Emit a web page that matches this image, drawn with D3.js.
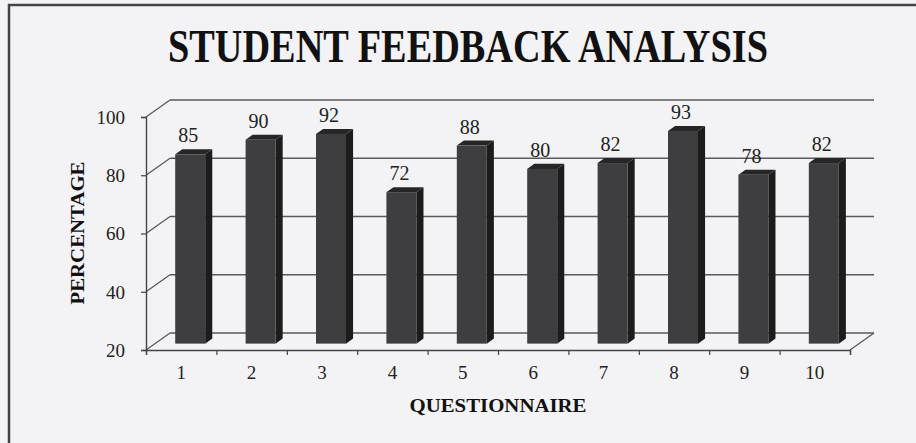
<!DOCTYPE html>
<html>
<head>
<meta charset="utf-8">
<script src="https://cdn.jsdelivr.net/npm/d3@7"></script>
<style>
  html, body { margin: 0; padding: 0; background: #f3f2f4; }
  svg { display: block; }
</style>
</head>
<body>
<svg id="chart" width="916" height="443"></svg>
<script>
const categories = ["1","2","3","4","5","6","7","8","9","10"];
const values = [85, 90, 92, 72, 88, 80, 82, 93, 78, 82];
const yTicks = [20, 40, 60, 80, 100];
const titleText = "STUDENT FEEDBACK ANALYSIS";
const xTitle = "QUESTIONNAIRE";
const yTitle = "PERCENTAGE";

(function () {
const svg = d3.select("#chart");
const W = 916, H = 443;
const serif = "'Liberation Serif', 'Times New Roman', serif";

// background + frame (only top and left edges visible)
svg.append("rect").attr("x", 0).attr("y", 0).attr("width", W).attr("height", H).attr("fill", "#f3f2f4");
svg.append("rect").attr("x", 9).attr("y", 5).attr("width", 930).attr("height", 460)
  .attr("fill", "none").attr("stroke", "#444").attr("stroke-width", 2.5);

// plot geometry
const pLeft = 146, pRight = 850, pBottom = 350, pTop = 117;
const DX = 24, DY = -17;          // full depth offset
const z0 = 0.375, z1 = 0.67;      // bar depth range

const x = d3.scaleBand().domain(categories).range([pLeft, pRight]).paddingInner(0.574).paddingOuter(0.287);
const y = d3.scaleLinear().domain([20, 100]).range([pBottom, pTop]);
const b = d3.scaleLinear().domain([0, categories.length]).range([pLeft, pRight]);

const g = svg.append("g");
const gridColor = "#5a5a5a";

// back wall gridlines + left wall slants
yTicks.forEach(v => {
  g.append("line")
    .attr("x1", pLeft + DX).attr("x2", pRight + DX)
    .attr("y1", y(v) + DY).attr("y2", y(v) + DY)
    .attr("stroke", gridColor).attr("stroke-width", 1.7);
  g.append("line")
    .attr("x1", pLeft).attr("x2", pLeft + DX)
    .attr("y1", y(v)).attr("y2", y(v) + DY)
    .attr("stroke", gridColor).attr("stroke-width", 1.3);
});
// floor right edge
g.append("line")
  .attr("x1", pRight).attr("x2", pRight + DX)
  .attr("y1", pBottom).attr("y2", pBottom + DY)
  .attr("stroke", gridColor).attr("stroke-width", 1.3);

// axes
const yAxis = g.append("g").attr("transform", `translate(${pLeft},0)`)
  .call(d3.axisLeft(y).tickValues(yTicks).tickSize(5).tickPadding(16));
yAxis.select(".domain").attr("stroke", "#444").attr("stroke-width", 1.4);
yAxis.selectAll(".tick line").attr("stroke", "#444").attr("stroke-width", 1.2);
yAxis.selectAll(".tick text").attr("font-family", serif).attr("font-size", 19).attr("fill", "#222")
  .attr("dy", "0.34em");

const xTicksAxis = g.append("g").attr("transform", `translate(0,${pBottom})`)
  .call(d3.axisBottom(b).tickValues(d3.range(0, categories.length + 1)).tickFormat("").tickSize(5));
xTicksAxis.select(".domain").attr("stroke", "#444").attr("stroke-width", 1.4);
xTicksAxis.selectAll(".tick line").attr("stroke", "#444").attr("stroke-width", 1.2);

const xAxis = g.append("g").attr("transform", `translate(0,${pBottom})`)
  .call(d3.axisBottom(x).tickSize(0).tickPadding(19));
xAxis.select(".domain").remove();
xAxis.selectAll(".tick text").attr("font-family", serif).attr("font-size", 19).attr("fill", "#222")
  .attr("dy", "0.55em");

// bars
const bw = x.bandwidth();
const pts = a => a.map(p => p.join(",")).join(" ");
const bars = g.append("g").selectAll("g").data(values).join("g");
bars.each(function(v, i) {
  const c = categories[i];
  const fx = x(c) + z0 * DX, fy = y(v) + z0 * DY, fb = pBottom + z0 * DY;
  const ddx = (z1 - z0) * DX, ddy = (z1 - z0) * DY;
  const sel = d3.select(this);
  sel.append("polygon").attr("points", pts([[fx + bw, fy], [fx + bw + ddx, fy + ddy], [fx + bw + ddx, fb + ddy], [fx + bw, fb]]))
    .attr("fill", "#1c1c1c");
  sel.append("polygon").attr("points", pts([[fx, fy], [fx + ddx, fy + ddy], [fx + bw + ddx, fy + ddy], [fx + bw, fy]]))
    .attr("fill", "#262626");
  sel.append("rect").attr("x", fx).attr("y", fy).attr("width", bw).attr("height", fb - fy)
    .attr("fill", "#3e3e40");
  sel.append("text").attr("x", fx + bw / 2 - 2).attr("y", fy - 12)
    .attr("text-anchor", "middle").attr("font-family", serif).attr("font-size", 20).attr("fill", "#222")
    .text(v);
});

// titles
svg.append("text").attr("x", 468).attr("y", 62).attr("text-anchor", "middle")
  .attr("font-family", serif).attr("font-weight", "bold").attr("font-size", 46).attr("fill", "#111")
  .attr("textLength", 600).attr("lengthAdjust", "spacingAndGlyphs")
  .text(titleText);

svg.append("text").attr("x", 498).attr("y", 412).attr("text-anchor", "middle")
  .attr("font-family", serif).attr("font-weight", "bold").attr("font-size", 18).attr("fill", "#111")
  .attr("textLength", 177).attr("lengthAdjust", "spacingAndGlyphs")
  .text(xTitle);

svg.append("text").attr("transform", "translate(84,233) rotate(-90)").attr("text-anchor", "middle")
  .attr("font-family", serif).attr("font-weight", "bold").attr("font-size", 18).attr("fill", "#111")
  .attr("textLength", 143).attr("lengthAdjust", "spacingAndGlyphs")
  .text(yTitle);
})();
</script>
</body>
</html>
